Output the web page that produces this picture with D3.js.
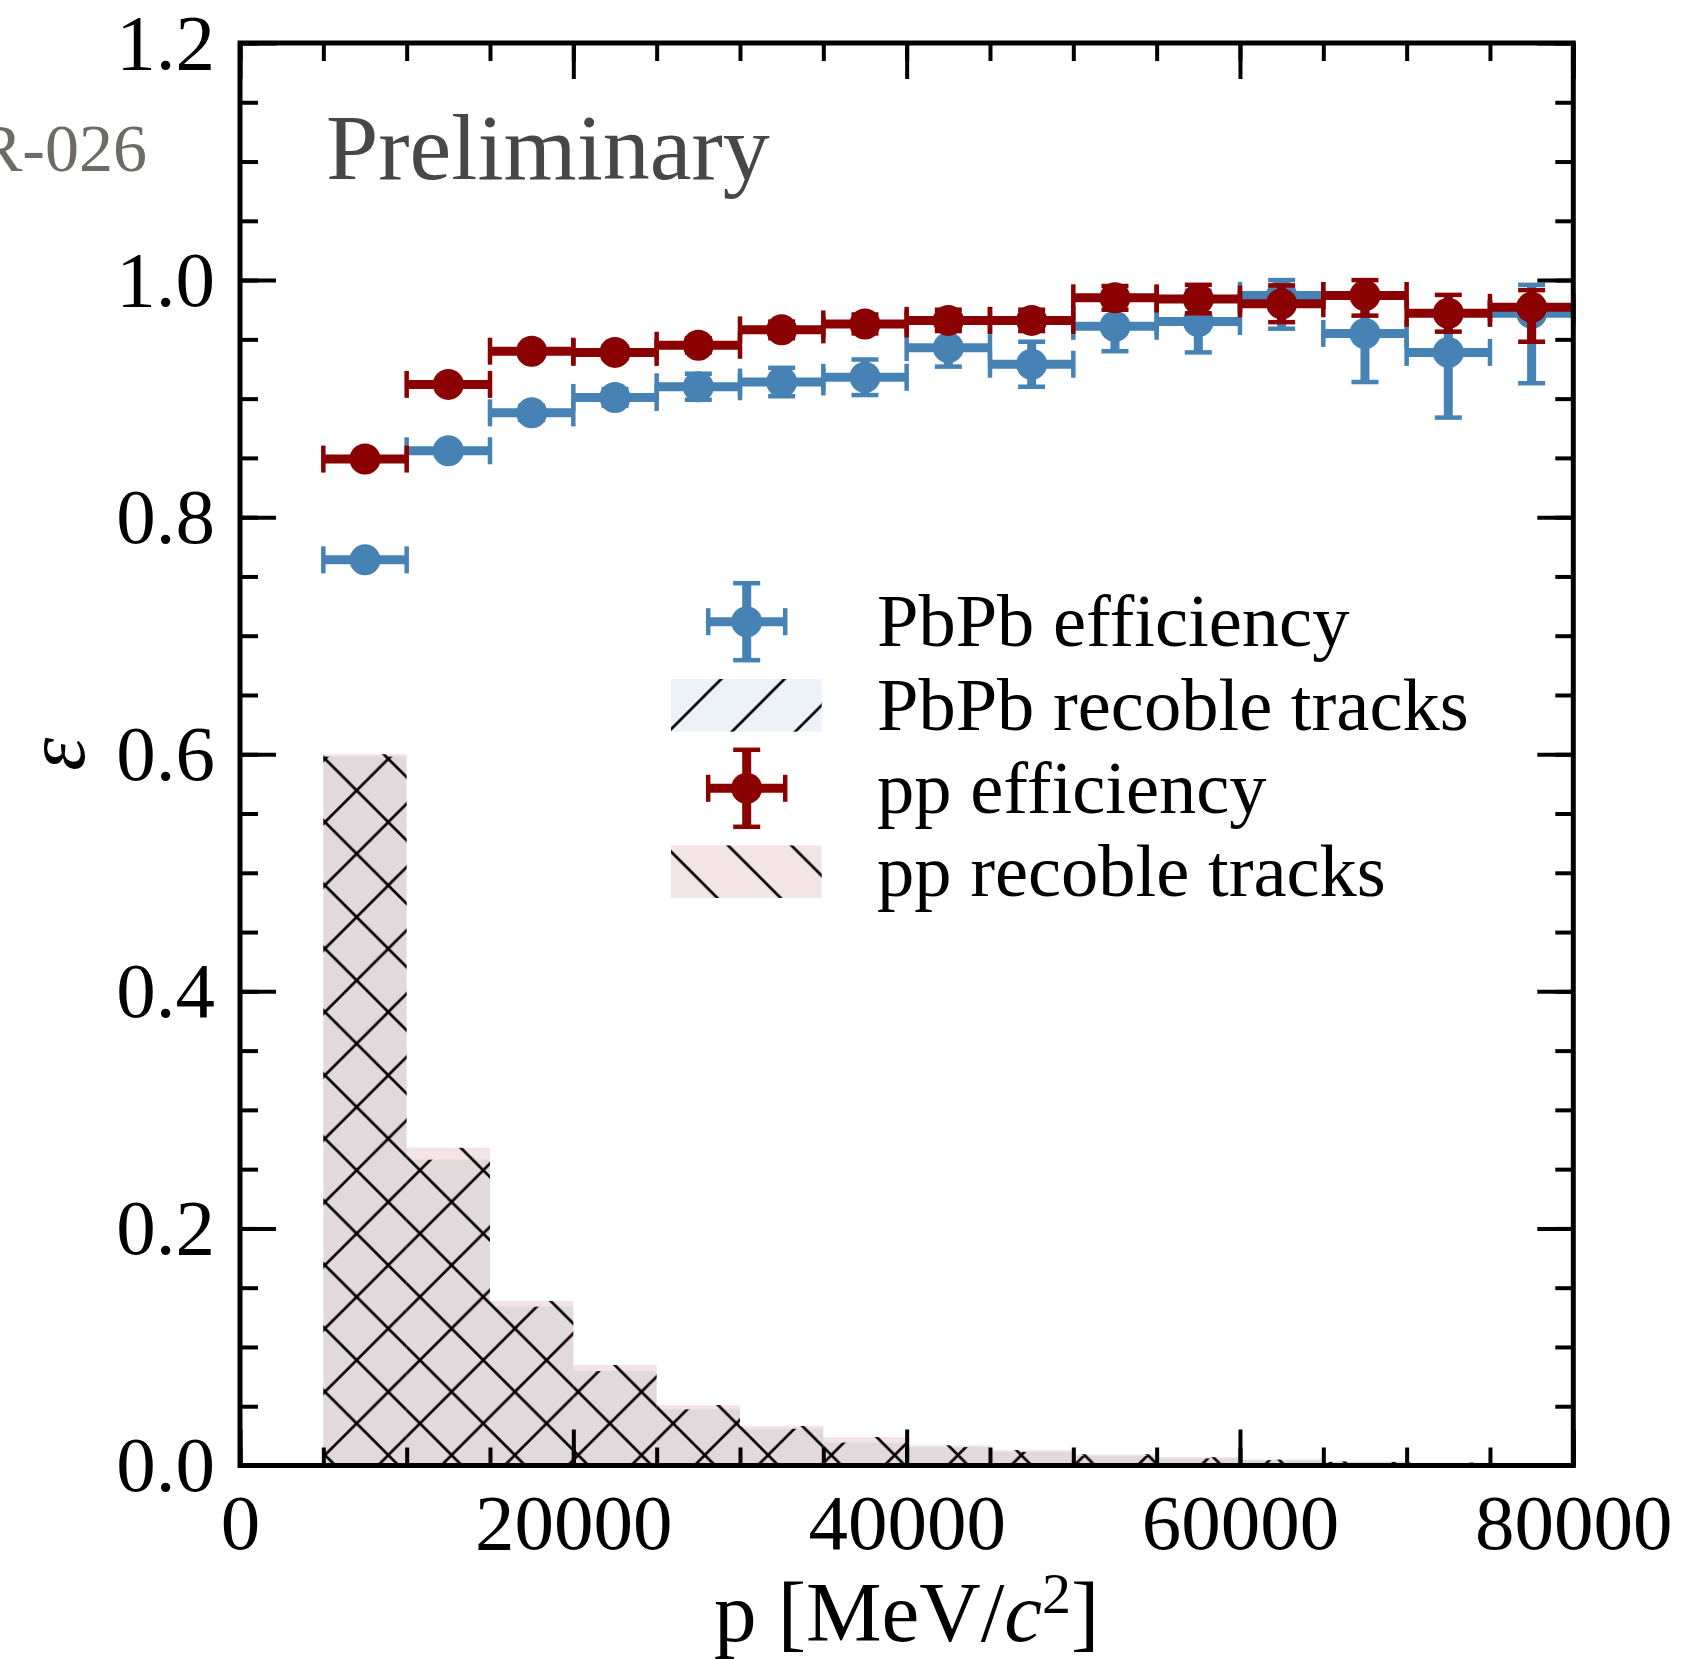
<!DOCTYPE html>
<meta charset="utf-8">
<title>Efficiency vs momentum</title>
<style>
	body { margin: 0; background: #fff; }
	svg { display: block; font-family: 'Liberation Serif', 'Times New Roman', serif; }
</style>
<body>
<div id="chart"></div>
<script src="https://d3js.org/d3.v7.min.js"></script>
<script>
// ---- data ----
var binLo = [5000, 10000, 15000, 20000, 25000, 30000, 35000, 40000, 45000, 50000, 55000, 60000, 65000, 70000, 75000];
var binHi = [10000, 15000, 20000, 25000, 30000, 35000, 40000, 45000, 50000, 55000, 60000, 65000, 70000, 75000, 80000];

var pbpbEff   = [0.764, 0.856, 0.888, 0.901, 0.910, 0.914, 0.918, 0.943, 0.929, 0.961, 0.965, 0.987, 0.955, 0.939, 0.972];
var pbpbErrLo = [0.004, 0.005, 0.006, 0.007, 0.011, 0.012, 0.015, 0.016, 0.019, 0.021, 0.026, 0.028, 0.041, 0.055, 0.059];
var pbpbErrHi = [0.004, 0.005, 0.006, 0.007, 0.011, 0.012, 0.015, 0.016, 0.019, 0.021, 0.026, 0.013, 0.035, 0.030, 0.024];

var ppEff   = [0.849, 0.912, 0.940, 0.939, 0.945, 0.958, 0.963, 0.966, 0.966, 0.985, 0.984, 0.980, 0.987, 0.972, 0.977];
var ppErrLo = [0.003, 0.004, 0.004, 0.005, 0.006, 0.007, 0.008, 0.009, 0.009, 0.010, 0.012, 0.0155, 0.017, 0.0155, 0.029];
var ppErrHi = [0.003, 0.004, 0.004, 0.005, 0.006, 0.007, 0.008, 0.009, 0.009, 0.010, 0.012, 0.0155, 0.013, 0.0155, 0.0145];

// recoble tracks, normalised
var pbpbHist = [0.598, 0.258, 0.134, 0.0797, 0.0474, 0.031, 0.0193, 0.0155, 0.0115, 0.008, 0.006, 0.0045, 0.003, 0.002, 0.0015];
var ppHist   = [0.600, 0.268, 0.1388, 0.0848, 0.051, 0.0333, 0.024, 0.017, 0.013, 0.0095, 0.007, 0.005, 0.0035, 0.0025, 0.002];

var xTicks = [0, 20000, 40000, 60000, 80000];
var yTicks = [0, 0.2, 0.4, 0.6, 0.8, 1.0, 1.2];
var legendLabels = ["PbPb efficiency", "PbPb recoble tracks", "pp efficiency", "pp recoble tracks"];

// ---- layout ----
var W = 1701, H = 1659;
var pL = 240, pR = 1573.3, pT = 43, pB = 1465.5;
var blue = "#4682b4", red = "#8b0000";
var blueFill = "rgba(70,130,180,0.1)", redFill = "rgba(139,0,0,0.1)";
var P = 63.3; // hatch period

var x = d3.scaleLinear().domain([0, 80000]).range([pL, pR]);
var y = d3.scaleLinear().domain([0, 1.2]).range([pB, pT]);

var svg = d3.select("#chart").append("svg")
	.attr("width", W)
	.attr("height", H);

// hatch patterns
var defs = svg.append("defs");
defs.append("pattern")
	.attr("id", "hatchF")
	.attr("patternUnits", "userSpaceOnUse")
	.attr("x", 7.7).attr("y", 0)
	.attr("width", P).attr("height", P)
	.append("path")
	.attr("d", "M0," + P + "L" + P + ",0M" + (-P / 2) + "," + (P / 2) + "L" + (P / 2) + "," + (-P / 2) +
		"M" + (P / 2) + "," + (1.5 * P) + "L" + (1.5 * P) + "," + (P / 2))
	.attr("stroke", "#000").attr("stroke-width", 2.7);
defs.append("pattern")
	.attr("id", "hatchB")
	.attr("patternUnits", "userSpaceOnUse")
	.attr("x", 9.3).attr("y", 0)
	.attr("width", P).attr("height", P)
	.append("path")
	.attr("d", "M0,0L" + P + "," + P + "M" + (-P / 2) + "," + (P / 2) + "L" + (P / 2) + "," + (1.5 * P) +
		"M" + (P / 2) + "," + (-P / 2) + "L" + (1.5 * P) + "," + (P / 2))
	.attr("stroke", "#000").attr("stroke-width", 2.7);

// ---- histograms ----
function drawHist(values, fill, hatch) {
	var g = svg.append("g");
	g.selectAll("rect.fill")
		.data(values)
		.join("rect")
		.attr("class", "fill")
		.attr("x", function (d, i) { return x(binLo[i]); })
		.attr("width", function (d, i) { return x(binHi[i]) - x(binLo[i]); })
		.attr("y", function (d) { return y(d); })
		.attr("height", function (d) { return y(0) - y(d); })
		.attr("fill", fill);
	g.selectAll("rect.hatch")
		.data(values)
		.join("rect")
		.attr("class", "hatch")
		.attr("x", function (d, i) { return x(binLo[i]); })
		.attr("width", function (d, i) { return x(binHi[i]) - x(binLo[i]); })
		.attr("y", function (d) { return y(d); })
		.attr("height", function (d) { return y(0) - y(d); })
		.attr("fill", "url(#" + hatch + ")");
}
drawHist(pbpbHist, blueFill, "hatchF");
drawHist(ppHist, redFill, "hatchB");

// ---- error bars ----
var capLen = 13.5, barW = 9, capW = 4.5, markR = 15.5;

function drawErr(eff, lo, hi, color) {
	var pts = eff.map(function (v, i) {
		return { x0: binLo[i], x1: binHi[i], xc: (binLo[i] + binHi[i]) / 2, v: v, lo: v - lo[i], hi: v + hi[i] };
	});
	var g = svg.append("g").attr("stroke", color);
	g.selectAll("line.h").data(pts).join("line")
		.attr("class", "h")
		.attr("x1", function (d) { return x(d.x0); }).attr("x2", function (d) { return x(d.x1); })
		.attr("y1", function (d) { return y(d.v); }).attr("y2", function (d) { return y(d.v); })
		.attr("stroke-width", barW);
	g.selectAll("line.v").data(pts).join("line")
		.attr("class", "v")
		.attr("x1", function (d) { return x(d.xc); }).attr("x2", function (d) { return x(d.xc); })
		.attr("y1", function (d) { return y(d.lo); }).attr("y2", function (d) { return y(d.hi); })
		.attr("stroke-width", barW);
	// caps
	pts.forEach(function (d) {
		[d.x0, d.x1].forEach(function (xv) {
			g.append("line")
				.attr("x1", x(xv)).attr("x2", x(xv))
				.attr("y1", y(d.v) - capLen).attr("y2", y(d.v) + capLen)
				.attr("stroke-width", capW);
		});
		[d.lo, d.hi].forEach(function (yv) {
			g.append("line")
				.attr("x1", x(d.xc) - capLen).attr("x2", x(d.xc) + capLen)
				.attr("y1", y(yv)).attr("y2", y(yv))
				.attr("stroke-width", capW);
		});
	});
	g.selectAll("circle").data(pts).join("circle")
		.attr("cx", function (d) { return x(d.xc); })
		.attr("cy", function (d) { return y(d.v); })
		.attr("r", markR)
		.attr("fill", color)
		.attr("stroke", "none");
}
drawErr(pbpbEff, pbpbErrLo, pbpbErrHi, blue);
drawErr(ppEff, ppErrLo, ppErrHi, red);

// ---- legend ----
var leg = svg.append("g").attr("font-size", 74.5);
var rowY = [621.7, 705.3, 788.3, 871.7];
var legKinds = [
	{ kind: "err", color: blue },
	{ kind: "patch", fill: blueFill, hatch: "hatchF" },
	{ kind: "err", color: red },
	{ kind: "patch", fill: redFill, hatch: "hatchB" }
];
legKinds.forEach(function (k, i) {
	var cy = rowY[i];
	if (k.kind === "err") {
		var cx = 746.7, hw = 38.5, vh = 38.5;
		var g = leg.append("g").attr("stroke", k.color);
		g.append("line").attr("x1", cx - hw).attr("x2", cx + hw).attr("y1", cy).attr("y2", cy).attr("stroke-width", barW);
		g.append("line").attr("x1", cx).attr("x2", cx).attr("y1", cy - vh).attr("y2", cy + vh).attr("stroke-width", barW);
		[cx - hw, cx + hw].forEach(function (xv) {
			g.append("line").attr("x1", xv).attr("x2", xv).attr("y1", cy - capLen).attr("y2", cy + capLen).attr("stroke-width", capW);
		});
		[cy - vh, cy + vh].forEach(function (yv) {
			g.append("line").attr("x1", cx - capLen).attr("x2", cx + capLen).attr("y1", yv).attr("y2", yv).attr("stroke-width", capW);
		});
		g.append("circle").attr("cx", cx).attr("cy", cy).attr("r", markR).attr("fill", k.color).attr("stroke", "none");
	} else {
		leg.append("rect").attr("x", 671).attr("y", cy - 26.3).attr("width", 150.7).attr("height", 52.6).attr("fill", k.fill);
		leg.append("rect").attr("x", 671).attr("y", cy - 26.3).attr("width", 150.7).attr("height", 52.6).attr("fill", "url(#" + k.hatch + ")");
	}
	leg.append("text")
		.attr("x", 877)
		.attr("y", cy + 24.5)
		.attr("fill", "#000")
		.text(legendLabels[i]);
});

// ---- texts ----
svg.append("text")
	.attr("x", 326).attr("y", 179)
	.attr("font-size", 94)
	.attr("fill", "#474747")
	.text("Preliminary");

svg.append("text")
	.attr("x", 147).attr("y", 171)
	.attr("text-anchor", "end")
	.attr("font-size", 68)
	.attr("fill", "#6e6a64")
	.text("R-026");

var xl = svg.append("text")
	.attr("x", (pL + pR) / 2).attr("y", 1641)
	.attr("text-anchor", "middle")
	.attr("font-size", 85);
xl.append("tspan").text("p [MeV/");
xl.append("tspan").attr("font-style", "italic").text("c");
xl.append("tspan").attr("font-size", 58).attr("dy", -28).text("2");
xl.append("tspan").attr("dy", 28).text("]");

svg.append("text")
	.attr("transform", "translate(84," + ((pT + pB) / 2) + ") rotate(-90)")
	.attr("text-anchor", "middle")
	.attr("font-size", 84)
	.attr("font-style", "italic")
	.text("ε");

// ---- axes (inward ticks on all four sides) ----
function styleAxis(g, fs) {
	g.select(".domain").remove();
	g.attr("font-family", null).attr("font-size", fs);
	g.selectAll(".tick line").attr("stroke-width", 4);
	g.selectAll(".tick text").attr("fill", "#000");
}
var xMinor = d3.range(0, 80001, 5000);
var yMinor = d3.range(0, 1.2001, 0.05);

svg.append("g").attr("transform", "translate(0," + pB + ")")
	.call(d3.axisBottom(x).tickValues(xMinor).tickSize(-18).tickFormat(""))
	.call(styleAxis, 79);
svg.append("g").attr("transform", "translate(0," + pB + ")")
	.call(d3.axisBottom(x).tickValues(xTicks).tickSize(-36).tickPadding(27).tickFormat(d3.format("d")))
	.call(styleAxis, 79);
svg.append("g").attr("transform", "translate(0," + pT + ")")
	.call(d3.axisTop(x).tickValues(xMinor).tickSize(-18).tickFormat(""))
	.call(styleAxis, 79);
svg.append("g").attr("transform", "translate(0," + pT + ")")
	.call(d3.axisTop(x).tickValues(xTicks).tickSize(-36).tickFormat(""))
	.call(styleAxis, 79);

svg.append("g").attr("transform", "translate(" + pL + ",0)")
	.call(d3.axisLeft(y).tickValues(yMinor).tickSize(-18).tickFormat(""))
	.call(styleAxis, 79);
svg.append("g").attr("transform", "translate(" + pL + ",0)")
	.call(d3.axisLeft(y).tickValues(yTicks).tickSize(-36).tickPadding(25).tickFormat(d3.format(".1f")))
	.call(styleAxis, 79);
svg.append("g").attr("transform", "translate(" + pR + ",0)")
	.call(d3.axisRight(y).tickValues(yMinor).tickSize(-18).tickFormat(""))
	.call(styleAxis, 79);
svg.append("g").attr("transform", "translate(" + pR + ",0)")
	.call(d3.axisRight(y).tickValues(yTicks).tickSize(-36).tickFormat(""))
	.call(styleAxis, 79);

// frame
svg.append("rect")
	.attr("x", pL).attr("y", pT)
	.attr("width", pR - pL).attr("height", pB - pT)
	.attr("fill", "none")
	.attr("stroke", "#000")
	.attr("stroke-width", 5);
</script>
</body>
